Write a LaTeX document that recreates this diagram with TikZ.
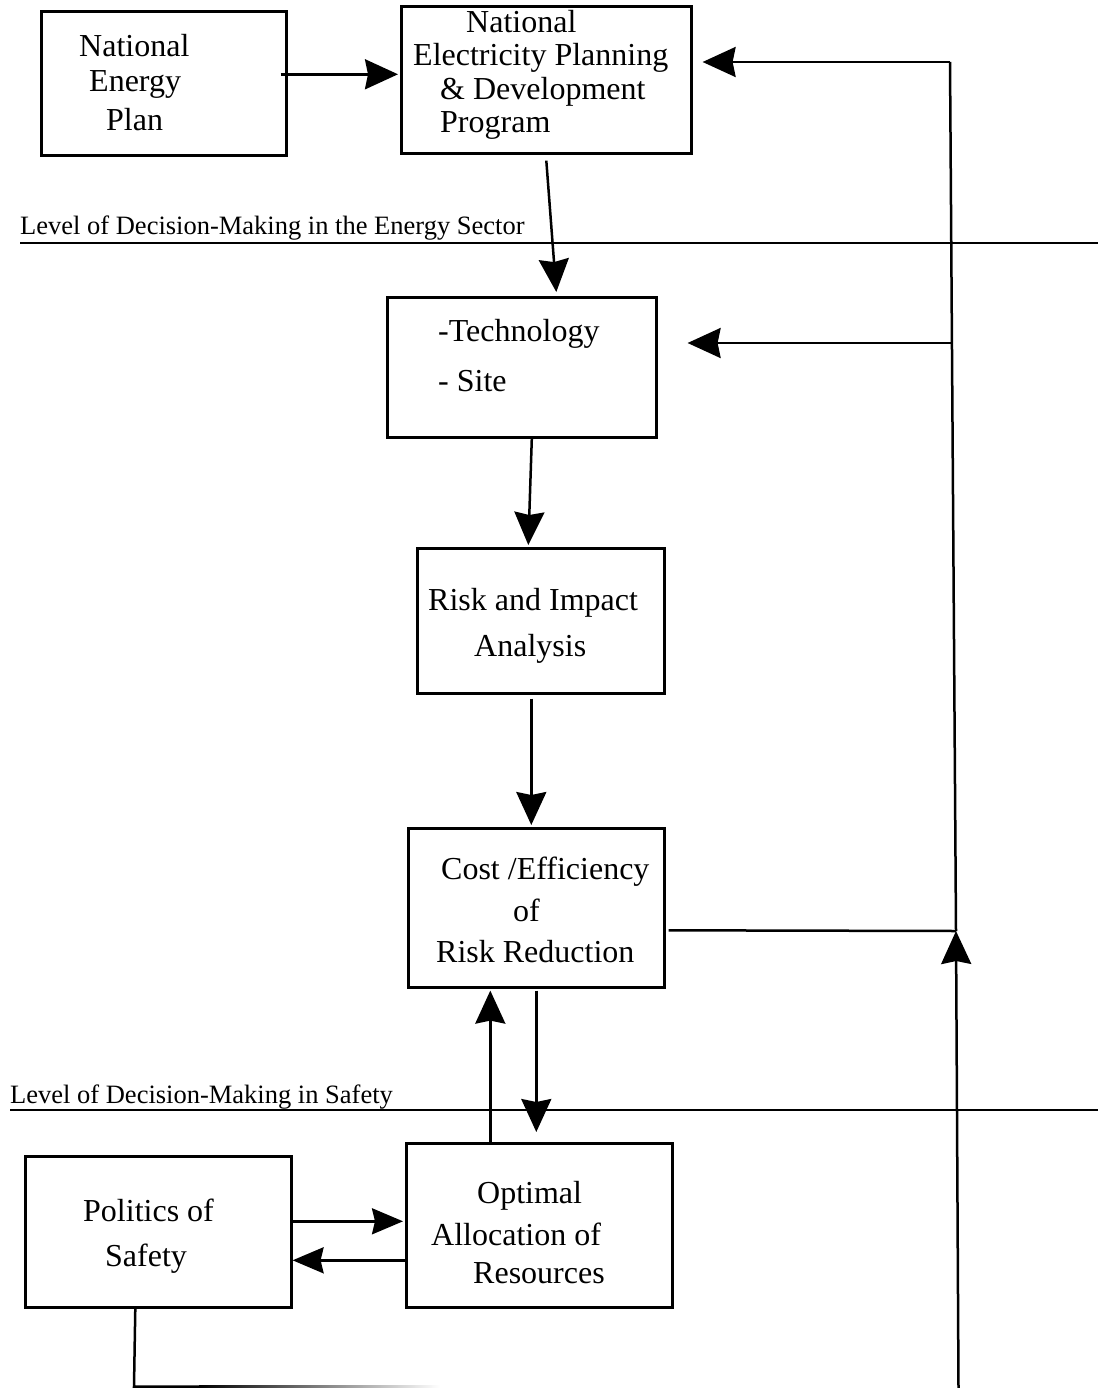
\documentclass[tikz,border=0pt]{standalone}
\usepackage{fontspec}
\setmainfont{Liberation Serif}
\usetikzlibrary{arrows.meta,calc}
\tikzset{
  box/.style={draw, line width=2.6pt, inner sep=0pt, anchor=north west},
  txt/.style={anchor=base west, inner sep=0pt, font=\fontsize{32}{38}\selectfont},
  lvl/.style={anchor=base west, inner sep=0pt, font=\fontsize{26.5}{30}\selectfont},
  conn/.style={line width=2.5pt},
  arr/.style={conn, -{Stealth[length=33pt,width=30pt,inset=3pt]}},
  sarr/.style={conn, -{Stealth[length=31pt,width=26pt,inset=3pt]}},
  sep/.style={line width=2.5pt},
}
\begin{document}
\begin{tikzpicture}[x=1pt,y=-1pt]
\useasboundingbox (0,0) rectangle (1098,1388);

% boxes
\node[box, minimum width=245pt, minimum height=144pt] (nep)   at (40,10)   {};
\node[box, minimum width=290pt, minimum height=147pt] (nepdp) at (400,5)   {};
\node[box, minimum width=269pt, minimum height=140pt] (tech)  at (386,296) {};
\node[box, minimum width=247pt, minimum height=145pt] (risk)  at (416,547) {};
\node[box, minimum width=256pt, minimum height=159pt] (cost)  at (407,827) {};
\node[box, minimum width=266pt, minimum height=151pt] (pol)   at (24,1155) {};
\node[box, minimum width=266pt, minimum height=164pt] (opt)   at (405,1142) {};

% box texts
\node[txt] (nep1) at (79,57)   {National};
\node[txt] (nep2) at (89,92)   {Energy};
\node[txt] (nep3) at (106,131) {Plan};

\node[txt] (dp1) at (466,33)  {National};
\node[txt] (dp2) at (413,66)  {Electricity Planning};
\node[txt] (dp3) at (440,100) {\& Development};
\node[txt] (dp4) at (440,133) {Program};

\node[txt] (te1) at (438,341) {-Technology};
\node[txt] (te2) at (438,391) {- Site};

\node[txt] (ri1) at (428,610) {Risk and Impact};
\node[txt] (ri2) at (474,656) {Analysis};

\node[txt] (co1) at (441,879) {Cost /Efficiency};
\node[txt] (co2) at (513,921) {of};
\node[txt] (co3) at (436,962) {Risk Reduction};

\node[txt] (po1) at (83,1221)  {Politics of};
\node[txt] (po2) at (105,1266) {Safety};

\node[txt] (op1) at (477,1203) {Optimal};
\node[txt] (op2) at (431,1245) {Allocation of};
\node[txt] (op3) at (473,1283) {Resources};

% decision levels
\draw[sep] (20,243) -- (1098,243);
\node[lvl] (lvlenergy) at (20,235) {Level of Decision-Making in the Energy Sector};
\draw[sep] (10,1110) -- (1098,1110);
\node[lvl] (lvlsafety) at (10,1103) {Level of Decision-Making in Safety};

% feedback loop on the right
\coordinate (fbtop)  at (950,62);
\coordinate (fbtech) at (951.8,343);
\coordinate (fbjoin) at (956,931);
\coordinate (fbbot)  at (958.5,1388);
\draw[conn] (fbjoin) -- (fbtop);
\draw[arr] (fbtop) -- ([xshift=10pt]nepdp.east |- fbtop);
\draw[arr] (fbtech) -- ([xshift=30pt]tech.east |- fbtech);
\draw[conn] ([xshift=3pt,yshift=-22.5pt]cost.east) -- (fbjoin);
\draw[arr] (fbbot) -- (fbjoin);

% main chain
\draw[arr] ([xshift=-7pt,yshift=9pt]nep.east) -- ([xshift=-2pt,yshift=5.5pt]nepdp.west);
\draw[arr] ([yshift=-6pt]nepdp.south) -- ([xshift=34.5pt,yshift=4pt]tech.north);
\draw[arr] ([xshift=10pt]tech.south) -- ([xshift=-12.5pt,yshift=2pt]risk.north);
\draw[arr] ([xshift=-9.5pt,yshift=-4pt]risk.south) -- ([xshift=-5pt,yshift=2pt]cost.north);
\draw[arr] ([yshift=-2pt]cost.south) -- ([xshift=-3pt,yshift=10pt]opt.north);
\draw[arr] ([xshift=-49pt]opt.north) -- ([xshift=-46pt,yshift=-2pt]cost.south);

% politics and allocation
\draw[sarr] ([yshift=10.5pt]pol.east) -- ([xshift=-2pt,yshift=4pt]opt.west);
\draw[sarr] ([yshift=-35pt]opt.west) -- ([yshift=-28.5pt]pol.east);

% line from politics running out along the bottom
\coordinate (polcorner) at (134,1386.5);
\draw[conn] ([xshift=-23pt]pol.south) -- (polcorner) -- (200,1386.5);
\shade[left color=black, right color=white] (199,1385.3) rectangle (440,1387.7);
\end{tikzpicture}
\end{document}
